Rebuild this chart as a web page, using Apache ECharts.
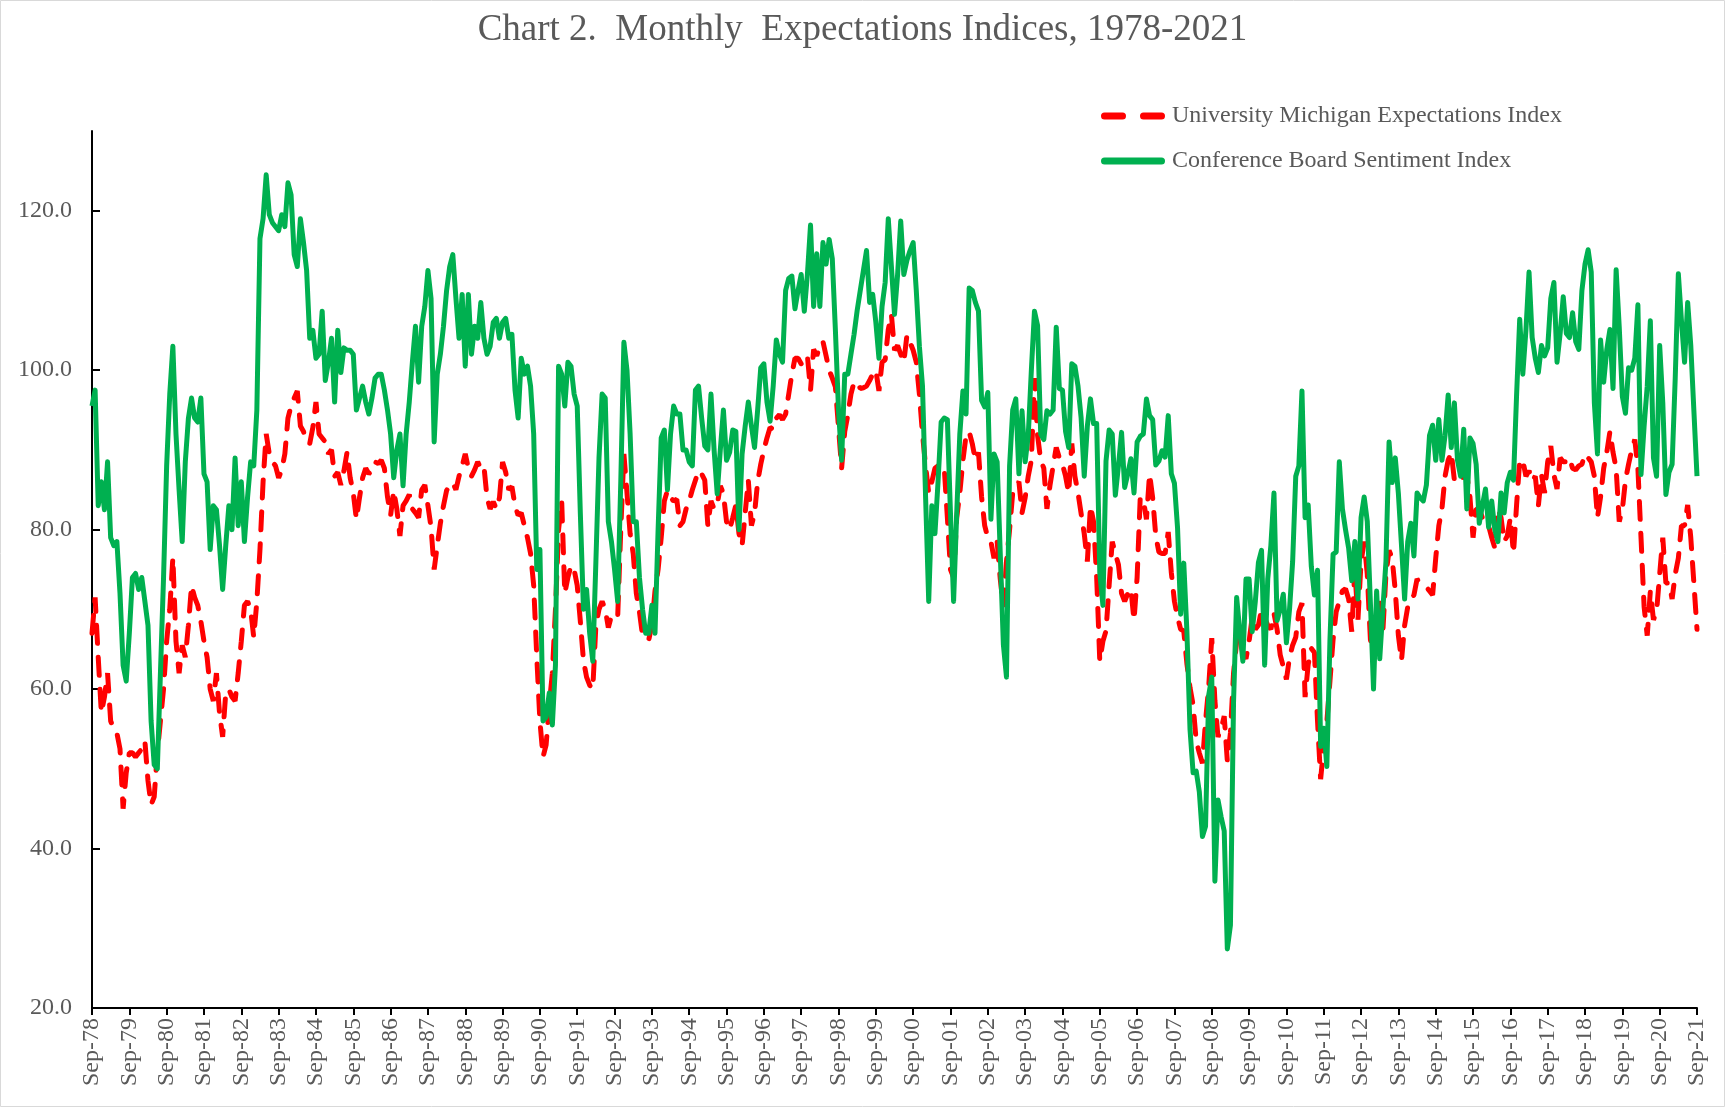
<!DOCTYPE html>
<html>
<head>
<meta charset="utf-8">
<script src="https://cdn.jsdelivr.net/npm/echarts@6/dist/echarts.min.js"></script>
<style>
  html, body { margin: 0; padding: 0; background: #fff; }
  #chart { width: 1725px; height: 1107px; }
</style>
</head>
<body>
<div id="chart"></div>
<script>
// one row per year, Sep..Aug; last value is Sep-21
const michigan = [
  67, 71.5, 64, 57, 59, 62, 56, 55, 54.5, 52.5, 45, 49.5,              // Sep-78
  52, 52, 51.5, 52, 52.5, 53.5, 48.5, 45.5, 46.5, 52, 56, 60,          // Sep-79
  66, 70, 76.5, 66, 62, 65.5, 64, 68, 73, 71.5, 70.5, 68.5,            // Sep-80
  66, 64, 60, 58.5, 62, 57, 54, 59.5, 60, 59, 58.5, 62,                // Sep-81
  66, 70.5, 71, 70, 66.5, 71, 77.5, 86, 92, 89.5, 88.5, 88,            // Sep-82
  86.5, 87.5, 89.5, 94, 95.5, 96.5, 97.4, 93, 92.3, 91, 90.8, 92.8,    // Sep-83
  96, 92, 91.5, 91, 89.5, 90, 86.7, 87.2, 85.6, 87.4, 89.7, 86.5,      // Sep-84
  84.6, 81.3, 84, 86.5, 87.7, 87, 87.4, 88.5, 88.3, 88.7, 87.7, 84.1,  // Sep-85
  81.8, 84.9, 82.6, 79.2, 83, 83.6, 84.4, 82.6, 82.1, 81.5, 85, 85.6,  // Sep-86
  83, 80.3, 75, 78, 80.8, 83, 84.9, 85.6, 85.9, 85, 86.7, 88,          // Sep-87
  89.5, 87.7, 86.7, 87.5, 88.5, 87.7, 88, 84, 82.6, 83.5, 82.6, 84,    // Sep-88
  88.5, 87.2, 85, 85.4, 83, 81.8, 82.1, 80.5, 79, 77, 73, 64,          // Sep-89
  56, 51.5, 53, 58, 62, 70, 80, 83.6, 72, 74, 75.5, 75,                // Sep-90
  73, 68.5, 63.6, 61.5, 60.5, 60, 68, 70, 71, 70, 67.7, 69.2,          // Sep-91
  69, 69, 80, 89.5, 84.6, 79.5, 77, 72, 69.7, 66.7, 66.5, 66.2,        // Sep-92
  68, 72.3, 75, 79, 83.6, 84.9, 84, 83.6, 83.8, 80.5, 81, 82.6,        // Sep-93
  83.6, 85, 86.2, 87.4, 87, 86.2, 80.5, 83.6, 82.6, 83.1, 85.5, 84.5,  // Sep-94
  81, 80, 81.5, 83.1, 79.5, 78, 82.1, 86.2, 80.5, 82, 86, 88.2,        // Sep-95
  90, 91.5, 92.8, 92.6, 94, 94.4, 93.8, 94.5, 97, 99.5, 101.5, 101.5,  // Sep-96
  100.8, 101, 101.8, 97.5, 102.6, 101.8, 103, 103.6, 101.8, 100, 99, 97.9, // Sep-97
  92.8, 87.7, 92.3, 94.4, 97, 98.5, 98.5, 97.7, 97.8, 98, 98.7, 99.5,  // Sep-98
  100, 97.4, 101, 101.3, 105.1, 107, 102.5, 103.1, 102, 101, 104.4, 103.5, // Sep-99
  102.5, 101, 97, 92, 88, 84.6, 86, 87.7, 88, 88.2, 87.7, 81.5,        // Sep-00
  75, 74, 81.5, 84.6, 88.7, 91.8, 92.3, 90.8, 88.7, 89.7, 84.1, 80.5,  // Sep-01
  79, 78.5, 76.4, 78.5, 73.8, 70.3, 76, 80, 84.6, 85.5, 86, 82.1,      // Sep-02
  84, 86.7, 88.7, 99, 91.8, 88.7, 87.7, 82.6, 85.6, 88, 90.3, 89,      // Sep-03
  88.2, 86.7, 84.6, 90.8, 86.7, 84.6, 82, 79.5, 76, 83, 81, 74,        // Sep-04
  63.5, 66, 67.3, 73, 78.5, 77, 75.6, 72, 71, 72, 72.6, 68.6,          // Sep-05
  74, 84, 83.8, 81.3, 87, 84, 79.2, 77.2, 77, 77, 79.7, 74.6,          // Sep-06
  71, 69, 67.5, 67.3, 63.2, 60.2, 58, 53.5, 52, 50.7, 56, 60.2,        // Sep-07
  66.4, 58.6, 54, 55, 56.6, 51, 54.5, 62, 66, 66.9, 64.5, 63.8,        // Sep-08
  66, 69, 67.5, 68, 70, 69, 68, 67.5, 69.5, 67.5, 64.3, 62.8,          // Sep-09
  61.2, 64, 65.5, 66.5, 69.7, 70.8, 59, 63.1, 65.1, 64.6, 56, 48.7,    // Sep-10
  52.8, 55.9, 61, 66.2, 69.7, 71, 72.3, 72.6, 71.3, 67.2, 74.9, 68.7,  // Sep-11
  76, 78.5, 74.4, 66.2, 64.1, 68.2, 71.3, 67.2, 74.4, 77.4, 76.4, 72.3, // Sep-12
  66.7, 63.6, 68, 70.3, 71.3, 71.8, 73.8, 73.3, 73, 72.8, 72.3, 71.8,  // Sep-13
  76.4, 80.5, 82.6, 86.7, 88.7, 89.7, 86.2, 86.7, 87.2, 86.4, 86.9, 84.1, // Sep-14
  79, 82.6, 82.6, 81.5, 81, 80.5, 79, 77.7, 82.6, 81.5, 78.5, 79.2,    // Sep-15
  81.5, 77, 83.1, 88.7, 88.7, 86.7, 87.4, 86.1, 86.7, 83, 86.9, 84.6,  // Sep-16
  88.5, 90.5, 86.9, 85.1, 89, 88.5, 88.5, 89, 87.7, 87.5, 88, 88.2,    // Sep-17
  89.5, 89, 88.5, 86.7, 81.5, 84.1, 87.7, 89.7, 92.3, 89.7, 87.7, 81,  // Sep-18
  82.5, 86.2, 88.2, 90, 91.3, 87.7, 79, 70.3, 66.7, 72.3, 68.7, 69.7,  // Sep-19
  74.4, 79, 73.3, 73.3, 71.3, 74.4, 76.4, 80.5, 80.5, 83.1, 79, 73.3,  // Sep-20
  67.5                                                                 // Sep-21
];

const conferenceBoard = [
  95.5, 97.5, 83, 86, 82.5, 88.5, 79, 78, 78.5, 72, 63, 61,            // Sep-78
  67, 74, 74.5, 72.5, 74, 71, 68, 56, 50.5, 50, 62, 74,                // Sep-79
  88, 97, 103, 92, 85, 78.5, 88.5, 94, 96.5, 94, 93.5, 96.5,           // Sep-80
  87, 86, 77.5, 83, 82.5, 78, 72.5, 78, 83, 80, 89, 80.5,              // Sep-81
  86, 78.5, 84, 88.5, 88, 95, 116.5, 119, 124.5, 119.5, 118.5, 118,    // Sep-82
  117.5, 119.5, 118, 123.5, 122, 114.5, 113, 119, 116, 112.5, 104, 105, // Sep-83
  101.5, 102, 107.4, 98.7, 101, 104, 96, 105, 99.7, 102.8, 102.5, 102.5, // Sep-84
  102, 95, 96.5, 98, 96, 94.5, 96.5, 99, 99.5, 99.5, 97.5, 95,         // Sep-85
  92, 86.5, 90, 92, 85.5, 92, 96, 101, 105.5, 98.5, 105.5, 108,        // Sep-86
  112.5, 109, 91, 99.5, 102, 105.5, 110, 113, 114.5, 109, 104, 109.5,  // Sep-87
  100.5, 109.5, 102, 105.5, 104, 108.5, 104, 102, 103, 106, 106.5, 104, // Sep-88
  106, 106.5, 104, 104.5, 97.5, 94, 101.5, 99.5, 100.5, 98, 92, 75,    // Sep-89
  77.5, 56, 56.5, 59.5, 55.5, 63, 100.5, 99.5, 95.5, 101, 100.5, 97,   // Sep-90
  95.5, 82, 70, 72.5, 67, 63.5, 76, 89, 97, 96.5, 81, 78.5,            // Sep-91
  75, 71, 86, 103.5, 100, 92, 81, 81, 74, 70, 67, 67,                  // Sep-92
  70.5, 67, 80, 91.5, 92.5, 85, 92, 95.5, 94.5, 94.5, 90, 90,          // Sep-93
  88.5, 88, 97.5, 98, 94, 90.5, 90, 97, 90, 84.5, 90, 95,              // Sep-94
  88.7, 89.7, 92.5, 92.3, 80, 89.5, 93, 96, 93, 90.3, 95, 100.3,       // Sep-95
  100.8, 96, 93.6, 98, 103.8, 102, 101, 110, 111.5, 111.8, 107.7, 110, // Sep-96
  112, 107.4, 112, 118.2, 108, 114.6, 108, 116, 113.3, 116.4, 114, 105, // Sep-97
  95, 88.7, 99.5, 99.5, 102, 104.5, 107.5, 110, 112.5, 115, 108.5, 109.5, // Sep-98
  106, 101.5, 108, 111, 119, 113, 107, 112, 118.7, 112, 113.8, 115,    // Sep-99
  116, 110, 103, 98, 84, 71, 83, 79.5, 86, 93.5, 94, 93.8,             // Sep-00
  82, 71, 82, 92, 97.4, 94.5, 110.3, 110, 108.5, 107.4, 96.2, 95.4,    // Sep-01
  97.2, 81.3, 89.5, 88.5, 77, 65.6, 61.5, 88, 95, 96.4, 87, 94.9,      // Sep-02
  88.5, 91.8, 100, 107.4, 105.6, 92, 91.3, 94.9, 94.5, 95, 105.4, 97.7, // Sep-03
  97.5, 92.3, 90.3, 100.8, 100.5, 98, 94, 86.7, 93, 96.4, 93.3, 93.3,  // Sep-04
  74.6, 70.5, 88.6, 92.5, 92, 84.3, 88, 92.2, 85.3, 87, 88.9, 84.6,    // Sep-05
  91, 91.7, 92, 96.4, 94.3, 93.8, 88.1, 88.6, 89.9, 89.1, 94.3, 87,    // Sep-06
  85.8, 80.2, 69.4, 75.8, 67.3, 55, 49.5, 49.7, 47.1, 41.5, 42.8, 59.2, // Sep-07
  61.5, 35.9, 46.1, 44, 42.2, 27.4, 30.4, 58.4, 71.5, 67.3, 63.5, 73.8, // Sep-08
  73.8, 67.2, 71, 75.9, 77.4, 63, 73.8, 78, 84.6, 68.6, 70, 71.9,      // Sep-09
  65.8, 70, 76, 86.7, 88, 97.4, 81.5, 83.1, 75.4, 71.8, 74.9, 52.8,    // Sep-10
  55.1, 50.3, 66.2, 76.9, 77.2, 88.5, 82.6, 80, 77.7, 73.6, 78.5, 71.3, // Sep-11
  81.5, 84.1, 81, 70.8, 60, 72.3, 63.8, 70, 76, 91, 85.9, 89,          // Sep-12
  84.5, 78, 71.3, 78.5, 80.8, 76.7, 84.6, 84, 83.6, 85.6, 91.8, 93.1,  // Sep-13
  88.7, 93.8, 88.7, 91.8, 96.9, 90.3, 95.9, 88.7, 86.7, 92.6, 82.6, 91.5, // Sep-14
  90.8, 88.2, 80.8, 83, 85.1, 80.3, 83.6, 80, 78.5, 84.6, 82.1, 85.9,  // Sep-15
  87.2, 86.2, 96.9, 106.4, 99.5, 105, 112.3, 104.1, 101.5, 99.7, 103.1, 101.8, // Sep-16
  102.8, 109, 111, 101, 104.6, 109.2, 104.6, 104.1, 107.2, 103.6, 102.6, 110, // Sep-17
  113.3, 115.1, 112.3, 95.9, 89.5, 103.8, 98.5, 102.6, 105.1, 97.7, 112.6, 105.4, // Sep-18
  96.7, 94.6, 100.3, 100, 101.5, 108.2, 86.9, 93, 98, 106.2, 89, 86.7, // Sep-19
  103.1, 95.9, 84.4, 87.2, 88.2, 99, 112.1, 106.2, 101, 108.5, 103.1, 94.9, // Sep-20
  86.7                                                                 // Sep-21
];

const monthNames = ['Jan', 'Feb', 'Mar', 'Apr', 'May', 'Jun', 'Jul', 'Aug', 'Sep', 'Oct', 'Nov', 'Dec'];
const months = conferenceBoard.map((v, i) => {
  const m = (8 + i) % 12;
  const y = (78 + Math.floor((8 + i) / 12)) % 100;
  return monthNames[m] + '-' + String(y).padStart(2, '0');
});

const font = 'Liberation Serif';
const textColor = '#595959';

// legend icons: two rounded dashes for the dashed series, one bar for the solid one
const dashIcon = 'path://M3.5,0h18a3.5,3.5 0 0 1 0,7h-18a3.5,3.5 0 0 1 0,-7z M42.5,0h18a3.5,3.5 0 0 1 0,7h-18a3.5,3.5 0 0 1 0,-7z';
const barIcon = 'path://M3.5,0h57a3.5,3.5 0 0 1 0,7h-57a3.5,3.5 0 0 1 0,-7z';

const chart = echarts.init(document.getElementById('chart'));
chart.setOption({
  animation: false,
  backgroundColor: '#fff',
  title: {
    text: 'Chart 2.  Monthly  Expectations Indices, 1978-2021',
    left: 'center',
    top: 7,
    textStyle: { fontFamily: font, fontSize: 37, fontWeight: 'normal', color: textColor },
  },
  legend: {
    orient: 'vertical',
    left: 1096,
    top: 99,
    itemWidth: 68,
    itemHeight: 7,
    itemGap: 21,
    textStyle: { fontFamily: font, fontSize: 24, color: textColor },
    data: [
      { name: 'University Michigan Expectations Index', icon: dashIcon },
      { name: 'Conference Board Sentiment Index', icon: barIcon },
    ],
  },
  graphic: [{
    type: 'rect',
    shape: { x: 0.5, y: 0.5, width: 1724, height: 1106 },
    style: { fill: null, stroke: '#d9d9d9', lineWidth: 1 },
    silent: true,
  }],
  grid: { left: 92, right: 28, top: 131, bottom: 99, containLabel: false },
  xAxis: {
    type: 'category',
    data: months,
    boundaryGap: false,
    axisLine: { lineStyle: { color: '#000', width: 2 } },
    axisTick: { interval: 11, length: 7, lineStyle: { color: '#000', width: 2 } },
    axisLabel: {
      interval: 11,
      rotate: 90,
      margin: 10,
      fontFamily: font,
      fontSize: 24,
      color: textColor,
    },
  },
  yAxis: {
    type: 'value',
    min: 20,
    max: 130,
    interval: 20,
    splitLine: { show: false },
    axisLine: { show: true, lineStyle: { color: '#000', width: 2 } },
    axisTick: { show: true, inside: true, length: 8, lineStyle: { color: '#000', width: 2 } },
    axisLabel: {
      showMaxLabel: false,
      margin: 20,
      fontFamily: font,
      fontSize: 24,
      color: textColor,
      formatter: v => v.toFixed(1),
    },
  },
  series: [
    {
      name: 'University Michigan Expectations Index',
      type: 'line',
      data: michigan,
      symbol: 'none',
      lineStyle: { color: '#ff0000', width: 5, type: [18, 14], cap: 'round' },
      itemStyle: { color: '#ff0000' },
    },
    {
      name: 'Conference Board Sentiment Index',
      type: 'line',
      data: conferenceBoard,
      symbol: 'none',
      lineStyle: { color: '#00b050', width: 5, join: 'round' },
      itemStyle: { color: '#00b050' },
    },
  ],
});
</script>
</body>
</html>
